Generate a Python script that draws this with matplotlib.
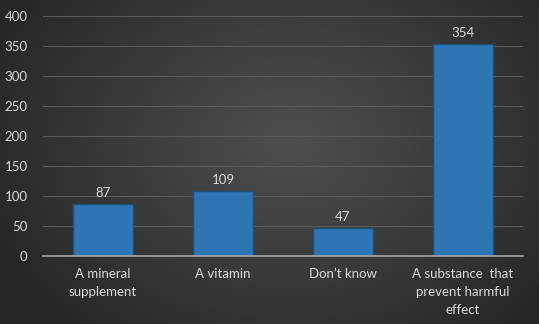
import matplotlib
matplotlib.use("Agg")
import matplotlib.pyplot as plt
import numpy as np

categories = ["A mineral\nsupplement", "A vitamin", "Don\u2019t know",
              "A substance  that\nprevent harmful\neffect"]
values = [87, 109, 47, 354]
yticks = [0, 50, 100, 150, 200, 250, 300, 350, 400]

plt.rcParams['font.family'] = ['Lato', 'DejaVu Sans']
W, H = 539, 324
fig = plt.figure(figsize=(W/100, H/100), dpi=100)

# radial gradient background
bg = fig.add_axes([0, 0, 1, 1], zorder=-10)
yy, xx = np.mgrid[0:H, 0:W]
r = np.sqrt(((xx - 290) / 330.0) ** 2 + ((yy - 140) / 260.0) ** 2)
r = np.clip(r, 0, 1)
val = 0.31 - 0.16 * r
img = np.dstack([val, val, val])
bg.imshow(img, aspect='auto', extent=[0, 1, 0, 1], origin='upper')
bg.axis('off')

ax = fig.add_axes([43/W, 1 - 256/H, 480/W, 240/H])
ax.patch.set_alpha(0)
x = np.arange(len(categories))
bars = ax.bar(x, values, width=0.5, color='#2e75b6', edgecolor='#1f4e79',
              linewidth=1.0, zorder=3)
for xi, v in zip(x, values):
    ax.text(xi, v + 8, str(v), ha='center', va='bottom', color='#d9d9d9',
            fontsize=9.5)
ax.set_xlim(-0.5, len(categories) - 0.5)
ax.set_ylim(0, 400)
ax.set_yticks(yticks)
ax.set_xticks(x)
ax.set_xticklabels(categories, color='#d9d9d9', fontsize=9.5, linespacing=1.55)
ax.tick_params(axis='y', colors='#d9d9d9', labelsize=9.5, length=0, pad=11)
ax.tick_params(axis='x', length=0, pad=9)
ax.grid(axis='y', color='#5a5a5a', linewidth=0.8, zorder=0)
for s in ['top', 'right', 'left']:
    ax.spines[s].set_visible(False)
ax.spines['bottom'].set_color('#a6a6a6')
ax.spines['bottom'].set_linewidth(1.2)
ax.spines['bottom'].set_zorder(4)

fig.savefig("out.png", dpi=100)
